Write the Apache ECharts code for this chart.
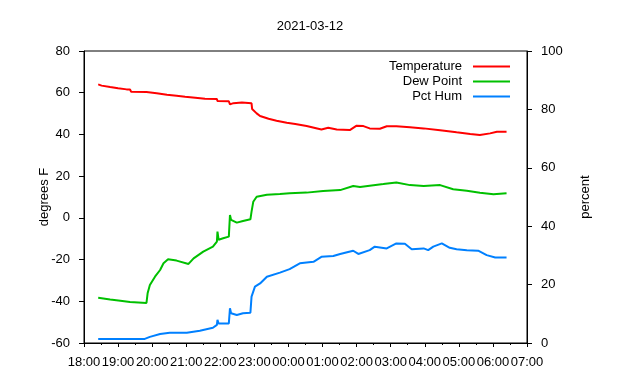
<!DOCTYPE html>
<html>
<head>
<meta charset="utf-8">
<script src="https://cdn.jsdelivr.net/npm/echarts@6/dist/echarts.min.js"></script>
<style>html,body{margin:0;padding:0;background:#fff}#c{width:640px;height:380px}</style>
</head>
<body>
<div id="c"></div>
<script>
var title = "2021-03-12";
var seriesNames = ["Temperature", "Dew Point", "Pct Hum"];
var xTickLabels = ["18:00","19:00","20:00","21:00","22:00","23:00","00:00","01:00","02:00","03:00","04:00","05:00","06:00","07:00"];
var leftTicks = [-60, -40, -20, 0, 20, 40, 60, 80];
var rightTicks = [0, 20, 40, 60, 80, 100];

var tempTimes = ["18:25","18:31","18:46","19:00","19:15","19:21","19:23","19:50","20:08","20:26","20:43","20:58","21:16","21:33","21:54","21:55","22:15","22:17","22:23","22:26","22:38","22:55","22:56","23:04","23:10","23:25","23:39","23:57","00:12","00:32","00:58","01:10","01:25","01:48","02:00","02:12","02:23","02:41","02:53","03:10","03:34","03:58","04:27","04:56","05:20","05:37","05:55","06:07","06:24"];
var tempValues = [64.0,63.4,62.7,62.1,61.6,61.5,60.5,60.3,59.7,59.0,58.6,58.1,57.6,57.1,57.0,56.0,55.9,54.4,55.0,55.4,55.3,54.9,52.2,50.1,48.8,47.5,46.6,45.6,45.0,44.0,42.4,43.2,42.4,42.1,44.2,44.0,42.9,42.7,43.9,43.9,43.4,42.9,42.0,41.0,40.2,39.7,40.5,41.3,41.3];

var dewTimes = ["18:25","18:46","19:04","19:21","19:23","19:50","19:52","19:56","20:05","20:14","20:20","20:28","20:43","21:04","21:13","21:30","21:47","21:54","21:55","21:57","22:05","22:15","22:17","22:19","22:29","22:40","22:53","22:55","22:58","23:04","23:22","23:45","00:02","00:32","01:01","01:31","01:54","02:06","02:23","02:47","03:10","03:34","03:58","04:27","04:50","05:14","05:37","06:01","06:24"];
var dewValues = [-38.3,-39.1,-39.7,-40.3,-40.8,-40.8,-36.2,-32.2,-28.2,-25.0,-21.8,-19.9,-20.5,-22.1,-19.4,-16.2,-13.8,-11.4,-6.6,-10.5,-9.8,-9.0,1.4,-1.0,-2.3,-1.5,-0.7,3.0,7.7,10.1,11.1,11.4,11.8,12.1,12.9,13.3,15.3,14.8,15.4,16.2,17.0,15.7,15.3,15.7,13.7,13.0,12.0,11.3,11.8];

var humTimes = ["18:25","19:47","19:56","20:14","20:31","21:01","21:24","21:47","21:54","21:55","21:57","22:15","22:17","22:19","22:29","22:40","22:53","22:55","23:01","23:10","23:22","23:45","00:02","00:20","00:44","00:58","01:19","01:31","01:54","02:03","02:23","02:32","02:53","03:10","03:25","03:37","03:58","04:06","04:15","04:30","04:44","04:56","05:14","05:34","05:49","06:04","06:24"];
var humValues = [1.4,1.4,2.1,3.1,3.5,3.5,4.2,5.2,6.2,7.9,6.7,6.7,11.9,10.2,9.6,10.2,10.4,15.9,19.3,20.4,22.7,24.1,25.3,27.3,27.8,29.5,29.8,30.5,31.6,30.5,31.8,33.0,32.4,34.1,34.0,32.1,32.4,31.8,33.0,34.1,32.6,32.1,31.8,31.6,30.1,29.3,29.3];

var colors = ["#ff0000", "#00c000", "#0080ff"];

function toHours(s) {
  var p = s.split(":");
  var hh = parseInt(p[0], 10), mm = parseInt(p[1], 10);
  var h = hh >= 18 ? hh - 18 : hh + 6;
  return h + mm / 60;
}
function pairs(times, vals) {
  return times.map(function (t, i) { return [toHours(t), vals[i]]; });
}

var font = "Liberation Sans, Arial, sans-serif";
var fs = 13;
var chart = echarts.init(document.getElementById("c"), null, {renderer: "canvas"});
chart.setOption({
  animation: false,
  backgroundColor: "#fff",
  textStyle: {fontFamily: font},
  title: {
    text: title, left: 305, top: 15, textAlign: "center",
    textStyle: {fontSize: fs, fontWeight: "normal", color: "#000", fontFamily: font}
  },
  legend: {
    data: seriesNames, orient: "vertical", right: 125, top: 55, align: "right",
    icon: "rect", itemWidth: 37, itemHeight: 2, itemGap: 2,
    textStyle: {fontSize: fs, color: "#000", fontFamily: font, padding: [0, 6, 0, 0]}
  },
  grid: {left: 84, right: 113, top: 51, bottom: 37, show: true, borderColor: "#000", borderWidth: 1, containLabel: false},
  xAxis: {
    type: "value", min: 0, max: 13, interval: 1,
    axisLine: {show: true, onZero: false, lineStyle: {color: "#000"}},
    axisTick: {show: true, length: 4, lineStyle: {color: "#000"}},
    minorTick: {show: true, splitNumber: 2, length: 2, lineStyle: {color: "#000"}},
    splitLine: {show: false},
    axisLabel: {
      color: "#000", fontSize: fs, margin: 13, fontFamily: font,
      showMinLabel: true, showMaxLabel: true, hideOverlap: false,
      formatter: function (v) { return xTickLabels[Math.round(v)]; }
    }
  },
  yAxis: [
    {
      type: "value", min: leftTicks[0], max: leftTicks[leftTicks.length - 1], interval: 20,
      name: "degrees F", nameLocation: "middle", nameGap: 33, nameRotate: 90, nameMoveOverlap: false,
      nameTextStyle: {color: "#000", fontSize: fs, fontFamily: font},
      axisLine: {show: true, onZero: false, lineStyle: {color: "#000"}},
      axisTick: {show: true, length: 5, lineStyle: {color: "#000"}},
      splitLine: {show: false},
      axisLabel: {color: "#000", fontSize: fs, margin: 14, fontFamily: font}
    },
    {
      type: "value", min: rightTicks[0], max: rightTicks[rightTicks.length - 1], interval: 20,
      name: "percent", nameLocation: "middle", nameGap: 52, nameRotate: 90,
      nameTextStyle: {color: "#000", fontSize: fs, fontFamily: font},
      axisLine: {show: true, onZero: false, lineStyle: {color: "#000"}},
      axisTick: {show: true, length: 5, lineStyle: {color: "#000"}},
      splitLine: {show: false},
      axisLabel: {color: "#000", fontSize: fs, margin: 14, fontFamily: font}
    }
  ],
  series: [
    {name: seriesNames[0], type: "line", yAxisIndex: 0, data: pairs(tempTimes, tempValues), symbol: "none", color: colors[0], lineStyle: {width: 2, color: colors[0]}},
    {name: seriesNames[1], type: "line", yAxisIndex: 0, data: pairs(dewTimes, dewValues), symbol: "none", color: colors[1], lineStyle: {width: 2, color: colors[1]}},
    {name: seriesNames[2], type: "line", yAxisIndex: 1, data: pairs(humTimes, humValues), symbol: "none", color: colors[2], lineStyle: {width: 2, color: colors[2]}}
  ]
});
</script>
</body>
</html>
